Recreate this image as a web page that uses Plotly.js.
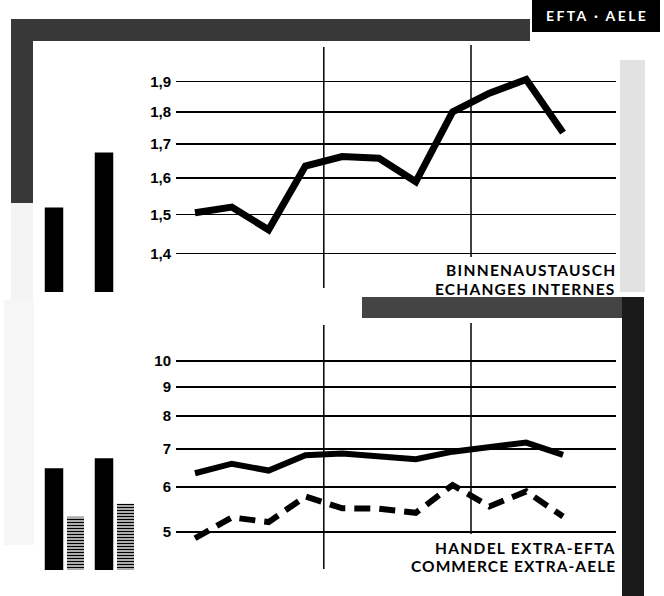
<!DOCTYPE html>
<html>
<head>
<meta charset="utf-8">
<script src="https://cdn.plot.ly/plotly-3.0.1.min.js"></script>
<style>html,body{margin:0;padding:0;background:#fff;}#chart{width:664px;height:596px;}</style>
</head>
<body>
<div id="chart"></div>
<script>
// ---------- data ----------
const years = [1959, 1960, 1961, 1962, 1963, 1964, 1965, 1966, 1967, 1968, 1969];
const internalTrade = [1.505, 1.52, 1.46, 1.635, 1.663, 1.658, 1.59, 1.80, 1.861, 1.907, 1.735];
const extraTradeSolid = [6.34, 6.59, 6.41, 6.82, 6.87, 6.79, 6.71, 6.92, 7.06, 7.18, 6.83];
const extraTradeDashed = [4.87, 5.30, 5.20, 5.77, 5.50, 5.49, 5.40, 6.045, 5.54, 5.89, 5.32];
const barGroups = ['Periode 1', 'Periode 2'];
const internalBars = [1.519, 1.675];
const extraBarsSolid = [6.47, 6.74];
const extraBarsHatched = [5.315, 5.60];
const dividers = [1962.5, 1966.5];
const topTicks = [1.4, 1.5, 1.6, 1.7, 1.8, 1.9];
const topTickText = ['1,4', '1,5', '1,6', '1,7', '1,8', '1,9'];
const bottomTicks = [5, 6, 7, 8, 9, 10];
const bottomTickText = ['5', '6', '7', '8', '9', '10'];
const topLabel = ['BINNENAUSTAUSCH', 'ECHANGES INTERNES'];
const bottomLabel = ['HANDEL EXTRA-EFTA', 'COMMERCE EXTRA-AELE'];
const badge = 'EFTA · AELE';

// ---------- helpers (pixel -> paper) ----------
const W = 664, H = 596;
const px = v => v / W;
const py = v => 1 - v / H;
const spaced = (t, s) => '<span style="letter-spacing:' + s + 'px">' + t + '</span>';

const traces = [
  {x: years, y: internalTrade, xaxis: 'x', yaxis: 'y', type: 'scatter', mode: 'lines',
   line: {color: '#000', width: 7}, hoverinfo: 'skip'},
  {x: barGroups, y: internalBars, xaxis: 'x2', yaxis: 'y2', type: 'bar',
   width: 0.37, offset: -0.185, marker: {color: '#000', line: {width: 0}}, hoverinfo: 'skip'},
  {x: years, y: extraTradeSolid, xaxis: 'x3', yaxis: 'y3', type: 'scatter', mode: 'lines',
   line: {color: '#000', width: 6}, hoverinfo: 'skip'},
  {x: years, y: extraTradeDashed, xaxis: 'x3', yaxis: 'y3', type: 'scatter', mode: 'lines',
   line: {color: '#000', width: 6, dash: '16px,9px'}, hoverinfo: 'skip'},
  {x: barGroups, y: extraBarsSolid, xaxis: 'x4', yaxis: 'y4', type: 'bar',
   width: 0.37, offset: -0.185, marker: {color: '#000', line: {width: 0}}, hoverinfo: 'skip'},
  {x: barGroups, y: extraBarsHatched, xaxis: 'x4', yaxis: 'y4', type: 'bar',
   width: 0.34, offset: 0.26,
   marker: {color: '#fff', line: {width: 0},
            pattern: {shape: '-', fgcolor: '#000', bgcolor: '#fff', size: 3, solidity: 0.55}},
   hoverinfo: 'skip'}
];

const labelFont = {family: 'Liberation Sans Narrow, Arial Narrow, sans-serif', size: 15, color: '#000', weight: 700};
const captionFont = {family: 'Lato, sans-serif', size: 15.5, color: '#000', weight: 700};
const lineX = [1958.484, 1970.44];
const topRange = [0.116346, 0.306903];
const botRange = [0.631546, 1.07223];
const topDomain = [py(292), py(45)];
const botDomain = [py(570), py(320)];
const barX = {domain: [px(40), px(140)], range: [-0.28, 1.72], type: 'category', visible: false, fixedrange: true};

const layout = {
  width: W, height: H,
  margin: {l: 0, r: 0, t: 0, b: 0},
  paper_bgcolor: '#fff', plot_bgcolor: 'rgba(0,0,0,0)',
  showlegend: false, barmode: 'overlay',
  xaxis: {domain: [px(176), px(616)], range: lineX, showgrid: false, zeroline: false,
          showticklabels: false, ticks: '', showline: false, anchor: 'y'},
  yaxis: {domain: topDomain, type: 'log', range: topRange, tickvals: topTicks, ticktext: topTickText,
          showgrid: true, gridcolor: '#000', gridwidth: 1.6, zeroline: false, showline: false,
          ticks: '', tickfont: labelFont, ticklabelstandoff: 4, anchor: 'x'},
  xaxis2: Object.assign({anchor: 'y2'}, barX),
  yaxis2: {domain: topDomain, type: 'log', range: topRange, visible: false, anchor: 'x2'},
  xaxis3: {domain: [px(176), px(616)], range: lineX, showgrid: false, zeroline: false,
           showticklabels: false, ticks: '', showline: false, anchor: 'y3'},
  yaxis3: {domain: botDomain, type: 'log', range: botRange, tickvals: bottomTicks, ticktext: bottomTickText,
           showgrid: true, gridcolor: '#000', gridwidth: 1.6, zeroline: false, showline: false,
           ticks: '', tickfont: labelFont, ticklabelstandoff: 4, anchor: 'x3'},
  xaxis4: Object.assign({anchor: 'y4'}, barX),
  yaxis4: {domain: botDomain, type: 'log', range: botRange, visible: false, anchor: 'x4'},
  shapes: [
    // scanned frame decorations
    {type: 'rect', xref: 'paper', yref: 'paper', x0: px(11), x1: px(530), y0: py(41), y1: py(19),
     fillcolor: '#383838', line: {width: 0}, layer: 'below'},
    {type: 'rect', xref: 'paper', yref: 'paper', x0: px(11), x1: px(33), y0: py(203), y1: py(19),
     fillcolor: '#383838', line: {width: 0}, layer: 'below'},
    {type: 'rect', xref: 'paper', yref: 'paper', x0: px(11), x1: px(33), y0: py(300), y1: py(203),
     fillcolor: '#f4f4f4', line: {width: 0}, layer: 'below'},
    {type: 'rect', xref: 'paper', yref: 'paper', x0: px(620), x1: px(645), y0: py(292), y1: py(60),
     fillcolor: '#e2e2e2', line: {width: 0}, layer: 'below'},
    {type: 'rect', xref: 'paper', yref: 'paper', x0: px(362), x1: px(644), y0: py(318), y1: py(297),
     fillcolor: '#444', line: {width: 0}, layer: 'below'},
    {type: 'rect', xref: 'paper', yref: 'paper', x0: px(622), x1: px(644), y0: 0, y1: py(297),
     fillcolor: '#1a1a1a', line: {width: 0}, layer: 'below'},
    {type: 'rect', xref: 'paper', yref: 'paper', x0: px(4), x1: px(34), y0: py(545), y1: py(300),
     fillcolor: '#f6f6f6', line: {width: 0}, layer: 'below'},
    // badge
    {type: 'rect', xref: 'paper', yref: 'paper', x0: px(532), x1: px(660), y0: py(32), y1: 1,
     fillcolor: '#000', line: {width: 0}},
    // vertical dividers
    {type: 'line', xref: 'x', yref: 'paper', x0: dividers[0], x1: dividers[0], y0: py(288), y1: py(47),
     line: {color: '#000', width: 1.5}},
    {type: 'line', xref: 'x', yref: 'paper', x0: dividers[1], x1: dividers[1], y0: py(257), y1: py(45),
     line: {color: '#000', width: 1.5}},
    {type: 'line', xref: 'x3', yref: 'paper', x0: dividers[0], x1: dividers[0], y0: py(569), y1: py(325),
     line: {color: '#000', width: 1.5}},
    {type: 'line', xref: 'x3', yref: 'paper', x0: dividers[1], x1: dividers[1], y0: py(534), y1: py(323),
     line: {color: '#000', width: 1.5}}
  ],
  annotations: [
    {text: spaced(badge, 2.4), xref: 'paper', yref: 'paper', x: px(597), y: py(16), xanchor: 'center', yanchor: 'middle',
     showarrow: false, font: {family: 'Lato, sans-serif', size: 14, color: '#fff', weight: 700}},
    {text: spaced(topLabel[0], 1.3), xref: 'paper', yref: 'paper', x: px(618), y: py(270), xanchor: 'right', yanchor: 'middle',
     showarrow: false, font: captionFont},
    {text: spaced(topLabel[1], 1.2), xref: 'paper', yref: 'paper', x: px(618), y: py(288.5), xanchor: 'right', yanchor: 'middle',
     showarrow: false, font: captionFont},
    {text: spaced(bottomLabel[0], 1.3), xref: 'paper', yref: 'paper', x: px(618), y: py(547.5), xanchor: 'right', yanchor: 'middle',
     showarrow: false, font: captionFont},
    {text: spaced(bottomLabel[1], 1.05), xref: 'paper', yref: 'paper', x: px(618), y: py(566), xanchor: 'right', yanchor: 'middle',
     showarrow: false, font: captionFont}
  ]
};

Plotly.newPlot('chart', traces, layout, {staticPlot: true, displayModeBar: false});
</script>
</body>
</html>
